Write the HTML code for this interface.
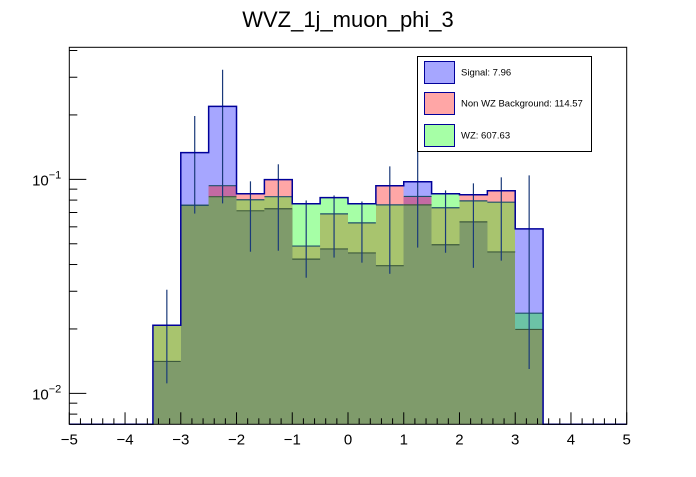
<!DOCTYPE html>
<html><head><meta charset="utf-8"><style>
body{margin:0;background:#fff;width:696px;height:472px;overflow:hidden;font-family:"Liberation Sans",Arial,sans-serif}
</style></head><body>
<svg id="chart" width="696" height="472" xmlns="http://www.w3.org/2000/svg">
<text x="348" y="27" text-anchor="middle" font-size="22" font-family="Liberation Sans, sans-serif">WVZ_1j_muon_phi_3</text>
<g id="plot"></g>
</svg>
<script>
const binEdgesStart = -3.5, binWidth = 0.5;
const signal = [0.0141,0.1334,0.2194,0.0713,0.0729,0.0424,0.0473,0.0453,0.0395,0.0975,0.0495,0.0633,0.0458,0.0587];
const nonWZ  = [0.0208,0.0757,0.0934,0.0857,0.0997,0.0488,0.0690,0.0626,0.0934,0.0832,0.0737,0.0847,0.0885,0.0199];
const wz     = [0.0208,0.0757,0.0830,0.0803,0.0830,0.0769,0.0821,0.0769,0.0760,0.0760,0.0857,0.0793,0.0782,0.0237];
const errHi  = [0.0305,0.1977,0.325,0.0979,0.1176,0.0797,0.0841,0.0788,0.115,0.1368,0.0888,0.0958,0.1022,0.1044];
const errLo  = [0.01114,0.0692,0.0772,0.0459,0.0464,0.0347,0.0431,0.0408,0.0362,0.048,0.0454,0.0386,0.0417,0.0130];
const xTicks = [-5,-4,-3,-2,-1,0,1,2,3,4,5];
const legendLabels = ["Signal: 7.96","Non WZ Background: 114.57","WZ: 607.63"];

const L=69.3,R=626.7,T=47.3,B=424.3,yMin=0.00717,yMax=0.414;
const NS='http://www.w3.org/2000/svg';
const g=document.getElementById('plot');
function X(v){return L+(v+5)/10*(R-L);}
function Y(v){return B-(Math.log10(v)-Math.log10(yMin))/(Math.log10(yMax)-Math.log10(yMin))*(B-T);}
function el(tag,attrs,parent){const e=document.createElementNS(NS,tag);for(const k in attrs)e.setAttribute(k,attrs[k]);(parent||g).appendChild(e);return e;}
const C={b:'#a6a6ff',r:'#ffa6a6',g:'#a6ffa6',br:'#c46aa3',bg:'#6cc3a6',rg:'#a8c46e',all:'#7f9b6b'};
for(let i=0;i<signal.length;i++){
  const x0=X(binEdgesStart+i*binWidth),x1=X(binEdgesStart+(i+1)*binWidth);
  const s=[{k:'b',v:signal[i]},{k:'r',v:nonWZ[i]},{k:'g',v:wz[i]}].sort((a,b)=>a.v-b.v);
  const y0=Y(s[0].v),y1=Y(s[1].v),y2=Y(s[2].v);
  const key2=[s[1].k,s[2].k].sort((a,b)=>'brg'.indexOf(a)-'brg'.indexOf(b)).join('');
  const w=x1-x0+0.6;
  let r=el('rect',{x:x0,y:y0,width:w,height:B-y0,fill:C.all,'shape-rendering':'crispEdges'});
  
  
  r=el('rect',{x:x0,y:y1,width:w,height:y0-y1+0.5,fill:C[key2],'shape-rendering':'crispEdges'});
  
  
  r=el('rect',{x:x0,y:y2,width:w,height:y1-y2+0.5,fill:C[s[2].k],'shape-rendering':'crispEdges'});
  
  
}
for(let i=0;i<signal.length;i++){
  const x0=X(binEdgesStart+i*binWidth),x1=X(binEdgesStart+(i+1)*binWidth);
  const s=[signal[i],nonWZ[i],wz[i]].sort((a,b)=>a-b);
  let ln=el('line',{x1:x0,x2:x1,y1:Y(s[0]),y2:Y(s[0]),stroke:'#3d5a3d','stroke-width':1.2});
  
  
  ln=el('line',{x1:x0,x2:x1,y1:Y(s[1]),y2:Y(s[1]),stroke:'#1f4f6a','stroke-width':1.2});
  
  
  const xc=(x0+x1)/2;
  ln=el('line',{x1:xc,x2:xc,y1:Y(errHi[i]),y2:Y(errLo[i]),stroke:'#1a3a7a','stroke-width':1.2});
  
  
}
let pts=[[X(-5),B],[X(binEdgesStart),B]];
for(let i=0;i<signal.length;i++){const m=Math.max(signal[i],nonWZ[i],wz[i]);pts.push([X(binEdgesStart+i*binWidth),Y(m)],[X(binEdgesStart+(i+1)*binWidth),Y(m)]);}
pts.push([X(binEdgesStart+signal.length*binWidth),B],[X(5),B]);
let pl=el('polyline',{points:pts.map(p=>p.join(',')).join(' '),fill:'none',stroke:'#000099','stroke-width':1.5});


let fr=el('rect',{x:L,y:T,width:R-L,height:B-T,fill:'none',stroke:'#000','stroke-width':1});


for(let k=0;k<=50;k++){
  const v=-5+k*0.2;
  const major=(k%5===0);
  const t=el('line',{x1:X(v),x2:X(v),y1:B,y2:B-(major?12:6),stroke:'#000','stroke-width':1});
  
  
}
xTicks.forEach(v=>{const t=el('text',{x:X(v),y:B+20,'text-anchor':'middle','font-size':15});t.textContent=(v<0?'\u2212'+(-v):v);
  
  });
for(let d=-3;d<=0;d++){for(let m=1;m<10;m++){const v=m*Math.pow(10,d);if(v<yMin||v>yMax)continue;
  const t=el('line',{x1:L,x2:L+(m==1?17:8),y1:Y(v),y2:Y(v),stroke:'#000','stroke-width':1});
  
  
  if(m==1){const tx=el('text',{x:L-8,y:Y(v)+6,'text-anchor':'end','font-size':15});
    tx.innerHTML='10<tspan dy="-7" font-size="11">'+('\u2212'+(-d))+'</tspan>';
    
    }}}
const lg=el('g',{});


const lb=el('rect',{x:417.5,y:56.5,width:174,height:95,fill:'#fff',stroke:'#000','stroke-width':1},lg);


[C.b,C.r,C.g].forEach((c,i)=>{
  const y=[61.5,92.5,124.5][i];
  const sw=el('rect',{x:424.5,y:y,width:30,height:22,fill:c,stroke:'#000099','stroke-width':1},lg);
  
  
  const t=el('text',{x:461,y:y+14,'font-size':9.5},lg);t.textContent=legendLabels[i];
  
  
});
</script>
</body></html>
